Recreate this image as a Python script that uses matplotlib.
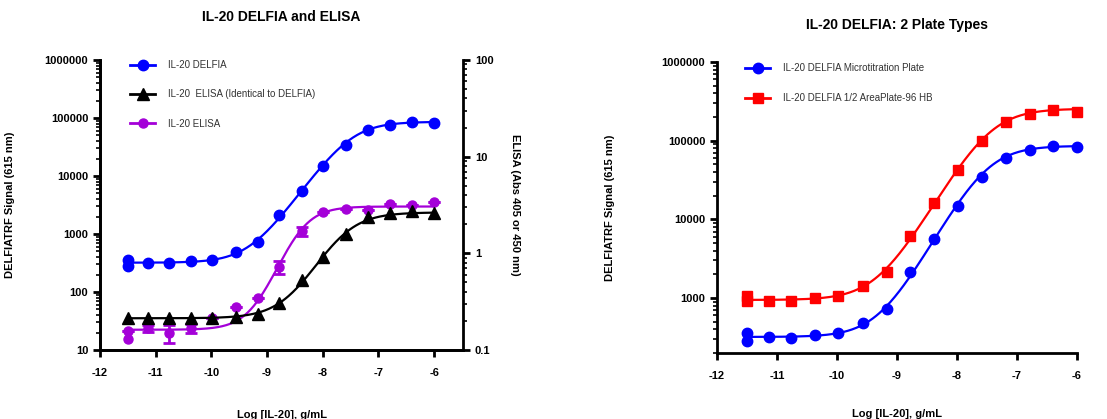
import numpy as np
import matplotlib
matplotlib.use("Agg")
import matplotlib.pyplot as plt
from matplotlib.lines import Line2D
from matplotlib.ticker import LogLocator, NullFormatter

plt.rcParams['font.family'] = ['Liberation Sans', 'DejaVu Sans']
plt.rcParams['font.weight'] = 'bold'
plt.rcParams['axes.labelweight'] = 'bold'

# log concentration of IL-20 (g/mL)
log_conc = [-11.50, -11.14, -10.76, -10.37, -9.98, -9.56, -9.17, -8.78, -8.38, -7.99, -7.58, -7.19, -6.79, -6.40, -6.0]

# DELFIA signal, microtitration plate (also on left chart)
delfia_micro = [360, 315, 312, 342, 358, 482, 720, 2130, 5550, 14600, 34400, 61000, 75600, 85600, 82000]
delfia_micro_rep = 285  # second replicate at lowest dose
# DELFIA signal, 1/2 AreaPlate-96 HB
delfia_half = [1065, 918, 918, 993, 1065, 1425, 2130, 6210, 16000, 42500, 99100, 174000, 218000, 245000, 234000]
delfia_half_rep = 927
# ELISA absorbance
elisa = [0.157, 0.168, 0.149, 0.168, 0.215, 0.281, 0.347, 0.727, 1.70, 2.66, 2.88, 2.80, 3.21, 3.16, 3.42]
elisa_err = [0.0, 0.014, 0.032, 0.018, 0.0, 0.0, 0.0, 0.11, 0.19, 0.0, 0.0, 0.0, 0.0, 0.0, 0.0]
elisa_rep = 0.130
# ELISA with identical reagents to DELFIA
elisa_ident = [0.213, 0.213, 0.213, 0.213, 0.213, 0.221, 0.234, 0.308, 0.53, 0.92, 1.60, 2.39, 2.63, 2.74, 2.60]

# 4PL fit parameters: bottom, top, logEC50, hill
fit_micro = (320, 86000, -7.50, 1.35)
fit_half = (945, 255000, -7.45, 1.30)
fit_elisa = (0.162, 3.05, -8.44, 1.69)
fit_ident = (0.213, 2.65, -7.70, 1.30)

BLUE = '#0000FF'
RED = '#FF0000'
PURPLE = '#A400D8'
BLACK = '#000000'


def four_pl(x, p):
    bottom, top, ec50, hill = p
    return bottom + (top - bottom) / (1 + 10 ** ((ec50 - x) * hill))


xfit = np.linspace(log_conc[0], log_conc[-1], 300)

fig = plt.figure(figsize=(11.07, 4.19), dpi=100)
ax1 = fig.add_axes([0.0903, 0.1647, 0.3280, 0.6921])
ax3 = fig.add_axes([0.6477, 0.1575, 0.3252, 0.6945])
ax2 = ax1.twinx()


def style_axis(ax):
    ax.spines['top'].set_visible(False)
    for s in ['left', 'bottom', 'right']:
        ax.spines[s].set_linewidth(2.0)
    ax.tick_params(which='major', length=5, width=2, labelsize=8, direction='out')
    ax.tick_params(which='minor', length=3, width=1.2, direction='out')
    ax.tick_params(axis='x', pad=8)


# ---------------- left chart
style_axis(ax1)
style_axis(ax2)
ax1.spines['right'].set_visible(False)

ax1.set_yscale('log')
ax1.set_ylim(10, 1e6)
ax1.set_xlim(-12, -5.48)
ax1.set_xticks(range(-12, -5))
ax1.set_xticklabels([str(v) for v in range(-12, -5)])
ax1.set_yticks([10, 100, 1000, 10000, 100000, 1000000],
               labels=['10', '100', '1000', '10000', '100000', '1000000'])
ax1.yaxis.set_minor_locator(LogLocator(base=10, subs=np.arange(2, 10)))
ax1.yaxis.set_minor_formatter(NullFormatter())

ax2.set_yscale('log')
ax2.set_ylim(0.1, 100)
ax2.set_yticks([0.1, 1, 10, 100], labels=['0.1', '1', '10', '100'])
ax2.yaxis.set_minor_locator(LogLocator(base=10, subs=np.arange(2, 10)))
ax2.yaxis.set_minor_formatter(NullFormatter())

ax1.plot(xfit, four_pl(xfit, fit_micro), color=BLUE, lw=1.6, zorder=3)
ax1.plot(log_conc, delfia_micro, 'o', color=BLUE, ms=7.5, zorder=4)
ax1.plot([log_conc[0]], [delfia_micro_rep], 'o', color=BLUE, ms=7.5, zorder=4)

ax2.plot(xfit, four_pl(xfit, fit_elisa), color=PURPLE, lw=1.6, zorder=3)
ax2.errorbar(log_conc, elisa, yerr=elisa_err, fmt='o', color=PURPLE, ms=6.5,
             capsize=4, capthick=2, elinewidth=2, zorder=4)
ax2.plot([log_conc[0]], [elisa_rep], 'o', color=PURPLE, ms=6.5, zorder=4)

ax2.plot(xfit, four_pl(xfit, fit_ident), color=BLACK, lw=1.6, zorder=5)
ax2.plot(log_conc, elisa_ident, '^', color=BLACK, ms=8, zorder=6)

ax1.set_title('IL-20 DELFIA and ELISA', fontsize=10, fontweight='bold', pad=28)
ax1.set_xlabel('Log [IL-20], g/mL', fontsize=8)
ax1.xaxis.set_label_coords(0.5, -0.207)
ax1.set_ylabel('DELFIATRF Signal (615 nm)', fontsize=8)
ax1.yaxis.set_label_coords(-0.234, 0.5)
ax2.set_ylabel('ELISA (Abs 405 or 450 nm)', fontsize=8, rotation=-90, va='center')
ax2.yaxis.set_label_coords(1.143, 0.5)

handles1 = [
    Line2D([], [], color=BLUE, marker='o', ms=7.5, lw=2),
    Line2D([], [], color=BLACK, marker='^', ms=8, lw=2),
    Line2D([], [], color=PURPLE, marker='o', ms=6.5, lw=2),
]
labels1 = ['IL-20 DELFIA', 'IL-20  ELISA (Identical to DELFIA)', 'IL-20 ELISA']
ax1.legend(handles1, labels1, loc='upper left', bbox_to_anchor=(0.083, 1.0),
           frameon=False, borderaxespad=0, borderpad=0, handlelength=2.6,
           handletextpad=1.3, labelspacing=2.0,
           prop={'size': 7, 'weight': 'normal'}, labelcolor='#333333')

# ---------------- right chart
style_axis(ax3)
ax3.spines['right'].set_visible(False)
ax3.set_yscale('log')
ax3.set_ylim(200, 1e6)
ax3.set_xlim(-12, -6)
ax3.set_xticks(range(-12, -5))
ax3.set_xticklabels([str(v) for v in range(-12, -5)])
ax3.set_yticks([1000, 10000, 100000, 1000000], labels=['1000', '10000', '100000', '1000000'])
ax3.yaxis.set_minor_locator(LogLocator(base=10, subs=np.arange(2, 10)))
ax3.yaxis.set_minor_formatter(NullFormatter())

ax3.plot(xfit, four_pl(xfit, fit_micro), color=BLUE, lw=1.6, zorder=3, clip_on=False)
ax3.plot(log_conc, delfia_micro, 'o', color=BLUE, ms=7.5, zorder=4, clip_on=False)
ax3.plot([log_conc[0]], [delfia_micro_rep], 'o', color=BLUE, ms=7.5, zorder=4, clip_on=False)
ax3.plot(xfit, four_pl(xfit, fit_half), color=RED, lw=1.6, zorder=3, clip_on=False)
ax3.plot(log_conc, delfia_half, 's', color=RED, ms=7.5, zorder=4, clip_on=False)
ax3.plot([log_conc[0]], [delfia_half_rep], 's', color=RED, ms=7.5, zorder=4, clip_on=False)

ax3.set_title('IL-20 DELFIA: 2 Plate Types', fontsize=10, fontweight='bold', pad=24)
ax3.set_xlabel('Log [IL-20], g/mL', fontsize=8)
ax3.xaxis.set_label_coords(0.5, -0.192)
ax3.set_ylabel('DELFIATRF Signal (615 nm)', fontsize=8)
ax3.yaxis.set_label_coords(-0.283, 0.5)

handles3 = [
    Line2D([], [], color=BLUE, marker='o', ms=7.5, lw=2),
    Line2D([], [], color=RED, marker='s', ms=7.5, lw=2),
]
labels3 = ['IL-20 DELFIA Microtitration Plate', 'IL-20 DELFIA 1/2 AreaPlate-96 HB']
ax3.legend(handles3, labels3, loc='upper left', bbox_to_anchor=(0.078, 0.995),
           frameon=False, borderaxespad=0, borderpad=0, handlelength=2.6,
           handletextpad=1.3, labelspacing=2.0,
           prop={'size': 7, 'weight': 'normal'}, labelcolor='#333333')

fig.savefig('out.png', dpi=100)
